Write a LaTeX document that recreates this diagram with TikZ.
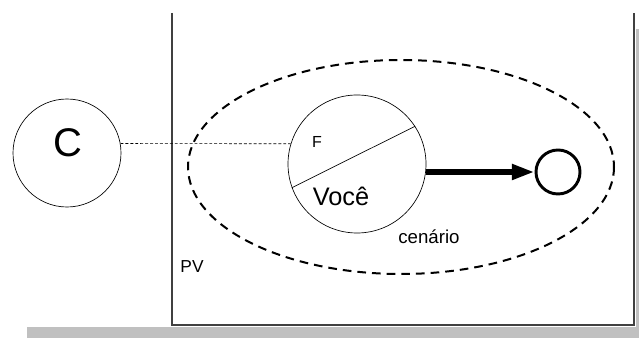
\documentclass[tikz,border=0pt]{standalone}
\usepackage{fontspec}
\setmainfont{Liberation Sans}
\usetikzlibrary{arrows.meta,positioning}
\definecolor{shadowgray}{HTML}{C0C0C0}
\definecolor{framegray}{HTML}{404040}
\tikzset{
  ring/.style={circle,draw,line width=0.5pt,inner sep=0pt},
  linkdash/.style={line width=0.5pt,dash pattern=on 2.2pt off 1.5pt},
  scenedash/.style={line width=1.5pt,dash pattern=on 6.5pt off 4.5pt},
  bigarrow/.style={line width=4.5pt,-{Triangle[length=17pt,width=11pt]}},
}

\begin{document}
\begin{tikzpicture}[x=0.75pt,y=-0.75pt]
      \useasboundingbox (0,0) rectangle (639,338);
      % shadow of the frame
      \fill[shadowgray] (27,327) rectangle (639,338);
      \fill[shadowgray] (636,29) rectangle (639,338);
      % frame
      \draw[framegray,line width=0.8pt] (172,13) -- (172,325) -- (634,325) -- (634,13);

      \node[ring,minimum size=81pt] (C) at (67,153) {};
      \node[font=\fontsize{30}{32}\selectfont] (Ctext) at (68,143) {C};

      \draw[scenedash] (401,167) ellipse [x radius=213, y radius=107];

      \node[ring,minimum size=103.5pt] (F) at (357,164) {};
      \node[ring,line width=2.2pt,minimum size=33pt] (O) at (558,172) {};

      \draw[line width=0.5pt] (F.200) -- (F.33);
      \draw[linkdash] (C.10) -- (F.163);
      \draw[bigarrow] (F.east |- O.west) -- (O.west);

      \node[font=\fontsize{12}{14}\selectfont] (Ftext) at (317,142) {F};
      \node[font=\fontsize{19}{22}\selectfont] (voce) at (341,196) {Você};
      \node[font=\fontsize{14}{16}\selectfont] (cenario) at (429,237) {cenário};
      \node[font=\fontsize{13}{15}\selectfont] (PV) at (192,267) {PV};
    \end{tikzpicture}
\end{document}
